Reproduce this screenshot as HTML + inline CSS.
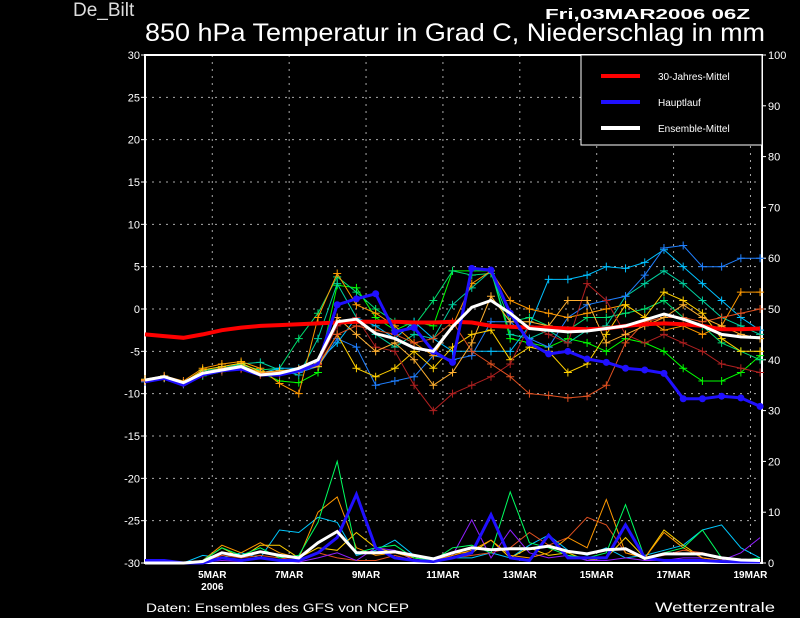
<!DOCTYPE html>
<html><head><meta charset="utf-8"><style>
html,body{margin:0;padding:0;background:#000;width:800px;height:618px;overflow:hidden}
svg{display:block}
text{font-family:"Liberation Sans","DejaVu Sans",sans-serif;fill:#fff}
</style></head><body>
<svg id="chart" width="800" height="618" viewBox="0 0 800 618" xmlns="http://www.w3.org/2000/svg">
<text x="73" y="16" font-size="19" fill="#ddd" style="fill:#ddd">De_Bilt</text>
<text x="545" y="19" font-size="15" font-weight="bold" textLength="205" lengthAdjust="spacingAndGlyphs">Fri,03MAR2006 06Z</text>
<text x="145" y="41" font-size="25" textLength="620" lengthAdjust="spacingAndGlyphs">850 hPa Temperatur in Grad C, Niederschlag in mm</text>
<text x="146" y="612" font-size="12" textLength="263" lengthAdjust="spacingAndGlyphs">Daten: Ensembles des GFS von NCEP</text>
<text x="655" y="612" font-size="14" textLength="120" lengthAdjust="spacingAndGlyphs">Wetterzentrale</text>
<g id="grid"></g><g id="axes"></g><g id="precip"></g><g id="temps"></g><g id="legend"></g>
</svg>
<script>
const NS="http://www.w3.org/2000/svg";
const xTickLabels=["5MAR","7MAR","9MAR","11MAR","13MAR","15MAR","17MAR","19MAR"];
const yTempTicks=[-30,-25,-20,-15,-10,-5,0,5,10,15,20,25,30];
const yPrecipTicks=[0,10,20,30,40,50,60,70,80,90,100];
const climate=[-3.0,-3.2,-3.4,-3.0,-2.5,-2.2,-2.0,-1.9,-1.8,-1.7,-1.6,-1.5,-1.5,-1.5,-1.6,-1.6,-1.5,-1.6,-2.0,-2.1,-2.2,-2.2,-2.3,-2.4,-2.3,-2.0,-1.8,-1.7,-1.8,-2.0,-2.4,-2.4,-2.3];
const mainRun=[-8.6,-8.2,-9.0,-7.8,-7.3,-7.1,-7.8,-7.8,-7.3,-6.5,0.5,1.2,1.8,-2.7,-2.2,-5.0,-6.3,4.8,4.6,-0.5,-4.0,-5.3,-5.0,-5.9,-6.3,-7.0,-7.2,-7.6,-10.6,-10.6,-10.3,-10.5,-11.5];
const ensMean=[-8.4,-8.0,-8.7,-7.6,-7.2,-6.8,-7.8,-7.6,-7.0,-6.0,-1.5,-1.2,-2.9,-3.5,-4.6,-5.0,-2.1,0.2,1.0,-0.5,-2.3,-2.5,-2.7,-2.6,-2.3,-2.0,-1.3,-0.6,-1.2,-2.0,-3.0,-3.3,-3.4];
const memA=[-8.5,-8.1,-8.8,-7.9,-7.4,-7.0,-7.5,-8.5,-8.7,-7.5,2.8,2.5,-1.0,-2.5,-1.5,-2.0,4.5,4.5,4.5,-3.5,-4.0,-4.5,-3.5,-4.0,-5.0,-3.5,-4.0,-5.0,-7.0,-8.5,-8.5,-7.5,-5.5];
const memB=[-8.3,-7.9,-8.6,-7.5,-7.0,-6.6,-7.2,-7.0,-3.5,-0.5,3.8,2.0,0.0,-1.5,-2.0,1.0,4.5,4.0,4.2,-1.5,-1.0,-2.0,-2.5,-1.0,-1.0,-0.5,0.0,1.0,-1.0,-2.0,-4.0,-5.0,-6.0];
const memC=[-8.4,-8.0,-8.7,-7.3,-7.0,-6.5,-6.3,-7.2,-7.8,-3.5,3.0,-1.0,-3.0,-4.5,-3.0,-3.5,0.5,2.5,4.5,-3.0,-3.5,-2.5,-4.0,-2.5,-2.0,1.5,3.0,4.5,3.0,1.0,-1.0,-2.0,-3.0];
const memD=[-8.5,-8.0,-8.8,-7.6,-7.3,-6.9,-7.6,-7.0,-7.0,-6.2,-4.0,-1.0,-2.0,-3.5,-1.5,-3.5,-5.0,-5.0,-5.0,-5.0,-2.0,3.5,3.5,4.0,5.0,4.8,5.5,7.0,5.0,3.0,1.0,-1.0,-2.5];
const memE=[-8.6,-8.2,-8.9,-7.8,-7.2,-7.0,-7.7,-7.8,-7.5,-6.8,-3.5,-4.5,-9.0,-8.5,-8.0,-5.5,-6.0,-5.5,-1.5,-1.5,-3.5,-4.5,-1.0,0.5,1.0,1.5,4.0,7.2,7.5,5.0,5.0,6.0,6.0];
const memF=[-8.3,-7.9,-8.5,-7.0,-6.5,-6.2,-7.0,-8.8,-10.0,-1.0,4.2,0.5,-0.5,-2.0,-4.0,-5.5,-2.0,3.0,4.5,1.0,0.0,-0.5,-1.0,-0.5,0.0,0.5,-1.0,-2.5,-2.0,-3.0,-2.0,2.0,2.0];
const memG=[-8.5,-8.1,-8.7,-7.2,-6.8,-6.4,-7.4,-7.5,-7.2,-6.8,-3.0,-7.0,-8.0,-7.0,-5.0,-7.0,-4.5,-3.0,-2.5,-6.0,-4.5,-5.0,-7.5,-6.5,-3.0,0.5,-1.0,2.0,1.0,-0.5,-3.5,-5.0,-5.0];
const memH=[-8.4,-8.0,-8.6,-7.7,-7.4,-7.1,-7.8,-7.7,-7.3,-6.5,-2.0,-1.0,-4.5,-5.0,-9.0,-12.0,-10.0,-9.0,-8.0,-6.5,-2.0,-3.0,-4.0,3.0,1.0,-3.0,-4.0,-3.0,-4.0,-5.0,-6.5,-7.0,-7.5];
const memI=[-8.5,-8.0,-8.8,-7.6,-7.2,-7.0,-7.6,-7.4,-7.2,-6.6,-3.0,-2.0,-2.5,-3.0,-4.0,-3.5,-1.5,-5.0,-6.5,-8.0,-10.0,-10.2,-10.5,-10.3,-9.0,-4.0,-1.5,-1.0,-1.0,-1.5,-1.0,-0.5,0.0];
const memJ=[-8.4,-8.1,-8.7,-7.5,-7.0,-6.7,-7.5,-7.3,-7.1,-6.4,-1.0,-3.0,-5.0,-4.0,-6.0,-9.0,-7.5,-4.0,1.5,-1.5,-1.5,-2.0,1.0,1.0,-4.0,-3.0,-2.0,-1.0,0.5,-1.0,-2.0,-3.0,-3.5];
const prMean=[0,0,0,0.3,2.0,1.3,2.2,1.5,1.0,4.0,6.2,2.0,2.0,2.2,1.5,0.8,2.0,3.0,2.6,2.8,2.8,3.3,2.3,1.8,2.6,2.8,0.9,1.8,1.8,1.8,1.0,0.6,0.5];
const prMain=[0.5,0.5,0,0,1.0,0.5,1.0,0.5,0.5,2.0,5.0,13.5,3.0,1.0,0.5,0.3,1.0,2.0,9.5,1.0,0.5,5.5,1.0,1.0,1.0,7.5,1.0,0.5,0.5,0.5,0.3,0.2,0.2];
const prA=[0,0,0,0.5,3.0,1.5,3.0,1.0,1.5,8.0,20.0,2.0,3.0,3.5,1.0,0.5,3.0,3.5,2.0,14.0,4.0,3.0,1.5,1.0,2.0,11.5,1.0,2.0,3.0,6.5,1.0,0.5,1.0];
const prB=[0,0,0,1.5,1.0,2.0,1.0,6.5,6.0,9.0,8.0,1.5,2.5,4.5,1.5,1.0,1.0,1.0,2.0,1.0,3.5,5.5,2.5,1.5,3.0,1.0,1.5,2.5,3.5,6.5,7.5,3.0,1.0];
const prF=[0,0,0,0.5,3.5,2.0,4.0,2.0,1.0,10.0,13.0,3.0,1.5,2.0,1.0,0.5,1.5,2.5,4.5,1.5,1.0,2.0,5.0,3.0,12.5,2.0,1.0,6.0,3.0,1.0,0.5,0.3,0.2];
const prI=[0,0,0,0.3,1.5,1.0,1.5,1.0,0.5,2.0,1.0,0.5,0.5,1.5,0.5,0.3,1.0,1.5,2.0,3.0,6.0,3.5,5.0,9.0,7.5,2.0,1.0,1.5,2.5,2.0,1.0,0.5,0.3];
const prP=[0,0,0,0.2,0.5,0.3,1.0,0.5,0.2,1.0,2.0,0.5,3.0,2.5,0.5,0.3,1.5,8.5,1.0,6.5,2.0,1.0,1.5,0.5,0.5,1.0,0.5,0.5,1.0,1.0,0.5,2.0,5.0];
const prG=[0,0,0,0.5,3.0,1.0,3.5,3.5,1.0,3.0,2.5,6.0,3.0,2.0,1.0,0.5,2.0,2.0,4.5,1.0,3.0,1.5,2.0,0.5,1.0,5.0,1.0,6.5,3.5,1.0,0.5,0.3,0.2];

const X0=145,X1=762,Y0=55,Y1=563;
const T0=0, DAYS=16.05; // time in days from 3MAR 06Z
function xDay(d){return X0+(d/DAYS)*(X1-X0);}
function xIdx(i){return xDay(i*0.5);}
function yT(v){return Y1-(v+30)/60*(Y1-Y0);}
function yP(v){return Y1-v/100*(Y1-Y0);}
function mk(tag,attrs,parent){const e=document.createElementNS(NS,tag);for(const k in attrs)e.setAttribute(k,attrs[k]);parent.appendChild(e);return e;}

const grid=document.getElementById('grid'),axes=document.getElementById('axes');
// vertical grid at each tick label (5MAR 00Z = 1.75 days)
xTickLabels.forEach((lab,k)=>{
  const x=xDay(1.75+2*k);
  const g=mk('line',{x1:x,x2:x,y1:Y0,y2:Y1,stroke:'#aaa','stroke-width':1,'stroke-dasharray':'2,5'},grid);
  
  
  const t=mk('text',{x:x,y:578,'font-size':10,'text-anchor':'middle','font-weight':'bold'},axes);
  t.textContent=lab;
  
  
});
const yr=mk('text',{x:xDay(1.75),y:590,'font-size':10,'text-anchor':'middle','font-weight':'bold'},axes);
yr.textContent='2006';


yTempTicks.forEach(v=>{
  const y=yT(v);
  if(v>-30&&v<30){const g=mk('line',{x1:X0,x2:X1,y1:y,y2:y,stroke:'#aaa','stroke-width':1,'stroke-dasharray':'2,5'},grid);
  
  }
  mk('line',{x1:X0-4,x2:X0,y1:y,y2:y,stroke:'#fff'},axes);
  const t=mk('text',{x:X0-5,y:y+4,'font-size':11,'text-anchor':'end'},axes);
  t.textContent=v;
  
  
});
yPrecipTicks.forEach(v=>{
  const y=yP(v);
  mk('line',{x1:X1,x2:X1+4,y1:y,y2:y,stroke:'#fff'},axes);
  const t=mk('text',{x:X1+6,y:y+4,'font-size':11},axes);
  t.textContent=v;
  
  
});
const fr=mk('rect',{x:X0,y:Y0,width:X1-X0,height:Y1-Y0,fill:'none',stroke:'#fff','stroke-width':2},axes);



function pts(arr,yf){return arr.map((v,i)=>xIdx(i).toFixed(1)+','+yf(v).toFixed(1)).join(' ');}
const pg=document.getElementById('precip');
const precipSeries=[[prB,'#00c8ff'],[prG,'#ffd000'],[prI,'#e05020'],[prP,'#9020ff'],[prF,'#ff9900'],[prA,'#00ff60']];
precipSeries.forEach(([a,c])=>{
  const p=mk('polyline',{points:pts(a,yP),fill:'none',stroke:c,'stroke-width':1},pg);
  
  
});
let p=mk('polyline',{points:pts(prMain,yP),fill:'none',stroke:'#2010ff','stroke-width':3},pg);


p=mk('polyline',{points:pts(prMean,yP),fill:'none',stroke:'#fff','stroke-width':3},pg);



const tg=document.getElementById('temps');
const members=[[memA,'#00ff00'],[memB,'#00e070'],[memC,'#00d0a0'],[memD,'#00c0ff'],[memE,'#2080ff'],[memF,'#ff9900'],[memG,'#ffd000'],[memH,'#b02020'],[memI,'#e05020'],[memJ,'#ffb030']];
members.forEach(([a,c])=>{
  const l=mk('polyline',{points:pts(a,yT),fill:'none',stroke:c,'stroke-width':1},tg);
  
  
  a.forEach((v,i)=>{
    const x=xIdx(i),y=yT(v);
    const m=mk('path',{d:`M${x-4},${y}H${x+4}M${x},${y-4}V${y+4}`,stroke:c,'stroke-width':1},tg);
    
    
  });
});
let l=mk('polyline',{points:pts(climate,yT),fill:'none',stroke:'#ff0000','stroke-width':4},tg);


l=mk('polyline',{points:pts(mainRun,yT),fill:'none',stroke:'#2010ff','stroke-width':3},tg);


mainRun.forEach((v,i)=>{
  if(i>=10){const c=mk('circle',{cx:xIdx(i),cy:yT(v),r:3.5,fill:'#2010ff'},tg);
  
  }
});
l=mk('polyline',{points:pts(ensMean,yT),fill:'none',stroke:'#fff','stroke-width':3},tg);



const lg=document.getElementById('legend');
const lb=mk('rect',{x:581,y:55,width:181,height:90,fill:'#000',stroke:'#fff','stroke-width':1},lg);


const legendLabels=["30-Jahres-Mittel","Hauptlauf","Ensemble-Mittel"];
const legendColors=['#ff0000','#2010ff','#fff'];
legendLabels.forEach((s,k)=>{
  const y=76+k*26;
  const ln=mk('line',{x1:601,x2:640,y1:y,y2:y,stroke:legendColors[k],'stroke-width':4},lg);
  
  
  const t=mk('text',{x:658,y:y+4,'font-size':10},lg);
  t.textContent=s;
  
  
});
</script>
</body></html>
